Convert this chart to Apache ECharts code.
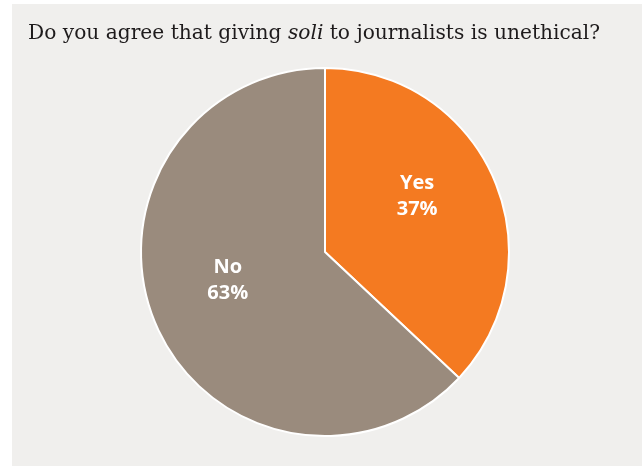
<!DOCTYPE html>
<html>
<head>
<meta charset="utf-8">
<script src="https://cdn.jsdelivr.net/npm/echarts@6/dist/echarts.min.js"></script>
<style>
  html, body { margin: 0; padding: 0; background: #ffffff; }
  #chart { position: absolute; left: 12px; top: 4px; width: 630px; height: 462px; background: #f0efed; }
</style>
</head>
<body>
<div id="chart"></div>
<script>
// Survey answers (percent of respondents)
const categories = ['Yes', 'No'];
const values = [37, 63];
const colors = ['#f47a21', '#9a8b7d'];
// nudges that lift each label off the sector's mid-radius
const labelOffsets = [[5, -18], [-10, -9]];

const chart = echarts.init(document.getElementById('chart'), null, { renderer: 'canvas' });

const titleFont = { fontFamily: 'DejaVu Serif', fontSize: 20.2, fontWeight: 'normal', color: '#1e1b1c' };

chart.setOption({
  backgroundColor: 'transparent',
  animation: false,
  title: {
    text: '{n|Do you agree that giving }{i|soli}{n| to journalists is unethical?}',
    left: 16,
    top: 20,
    padding: 0,
    textStyle: {
      fontWeight: 'normal',
      rich: {
        n: titleFont,
        i: Object.assign({}, titleFont, { fontStyle: 'italic' })
      }
    }
  },
  series: [{
    type: 'pie',
    center: [313, 248],
    radius: 184,
    startAngle: 90,
    clockwise: true,
    itemStyle: { borderColor: '#ffffff', borderWidth: 2 },
    label: {
      show: true,
      position: 'inside',
      formatter: '{b}\n{c}%',
      color: '#ffffff',
      fontFamily: 'Open Sans',
      fontWeight: 'bold',
      fontSize: 20,
      lineHeight: 26
    },
    labelLine: { show: false },
    emphasis: { disabled: true },
    data: categories.map((name, i) => ({
      name: name,
      value: values[i],
      itemStyle: { color: colors[i] },
      label: { offset: labelOffsets[i] }
    }))
  }]
});
</script>
</body>
</html>
